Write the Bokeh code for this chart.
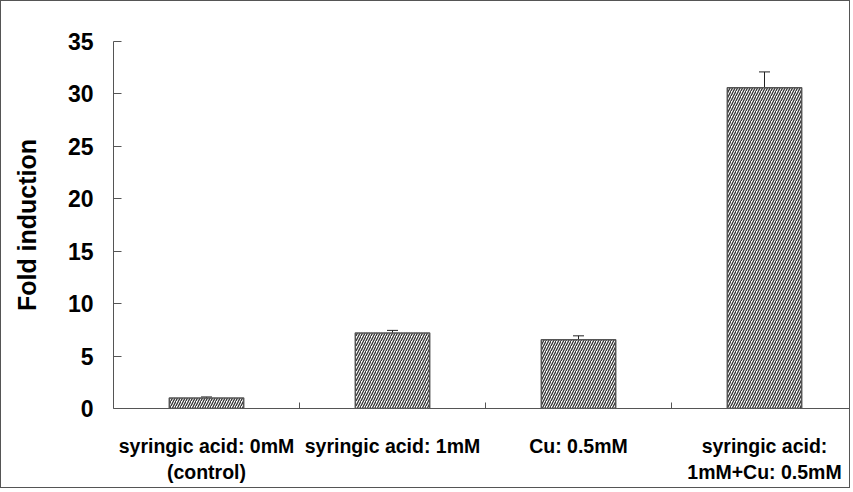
from bokeh.plotting import figure
from bokeh.models import Range1d, FixedTicker, ColumnDataSource, Whisker, TeeHead
from bokeh.embed import file_html
from bokeh.resources import INLINE

categories = ["syringic acid: 0mM\n(control)", "syringic acid: 1mM", "Cu: 0.5mM", "syringic acid:\n1mM+Cu: 0.5mM"]
values = [1.0, 7.2, 6.55, 30.6]
errors = [0.1, 0.25, 0.38, 1.5]
y_ticks = [0, 5, 10, 15, 20, 25, 30, 35]

xpos = [i + 0.5 for i in range(len(categories))]
src = ColumnDataSource(dict(
    x=xpos, top=values,
    lower=[v - e for v, e in zip(values, errors)],
    upper=[v + e for v, e in zip(values, errors)],
))

W, H = 850, 488
L, T, B = 112, 40, 81
p = figure(width=W, height=H, output_backend="svg", toolbar_location=None,
           x_range=Range1d(0, (W - L) / 186.0), y_range=Range1d(0, 35),
           min_border_left=L, min_border_right=0, min_border_top=T, min_border_bottom=B,
           styles={"border": "1px solid #555", "box-sizing": "border-box"})
p.outline_line_color = None
p.grid.grid_line_color = None
p.background_fill_color = "white"

p.vbar(x="x", top="top", bottom=0, width=0.4, source=src,
       fill_color="white", line_color="#555555", line_width=1.5,
       hatch_pattern="/", hatch_color="#333333", hatch_scale=5, hatch_weight=1.3)

err = Whisker(base="x", lower="lower", upper="upper", source=src,
              line_color="#222222", line_width=1,
              upper_head=TeeHead(size=11, line_color="#222222", line_width=1),
              lower_head=TeeHead(size=11, line_color="#222222", line_width=1))
p.add_layout(err)

font = "Liberation Sans"

ya = p.yaxis[0]
ya.ticker = FixedTicker(ticks=y_ticks)
ya.major_tick_in = 8
ya.major_tick_out = 0
ya.minor_tick_line_color = None
ya.axis_line_color = "#555555"
ya.major_tick_line_color = "#555555"
ya.major_label_text_font = font
ya.major_label_text_font_style = "bold"
ya.major_label_text_font_size = "23px"
ya.major_label_text_color = "black"
ya.major_label_standoff = 20
ya.axis_label = "Fold induction"
ya.axis_label_text_font = font
ya.axis_label_text_font_style = "bold"
ya.axis_label_text_font_size = "25px"
ya.axis_label_text_color = "black"
ya.axis_label_standoff = 24

xa = p.xaxis[0]
xa.ticker = FixedTicker(ticks=xpos, minor_ticks=[1, 2, 3])
xa.major_label_overrides = {x: c for x, c in zip(xpos, categories)}
xa.major_tick_line_color = None
xa.minor_tick_in = 6
xa.minor_tick_out = 0
xa.minor_tick_line_color = "#555555"
xa.axis_line_color = "#555555"
xa.major_label_text_font = font
xa.major_label_text_font_style = "bold"
xa.major_label_text_font_size = "19.5px"
xa.major_label_text_color = "black"
xa.major_label_standoff = 20

open("out.html", "w").write(file_html(p, INLINE))
